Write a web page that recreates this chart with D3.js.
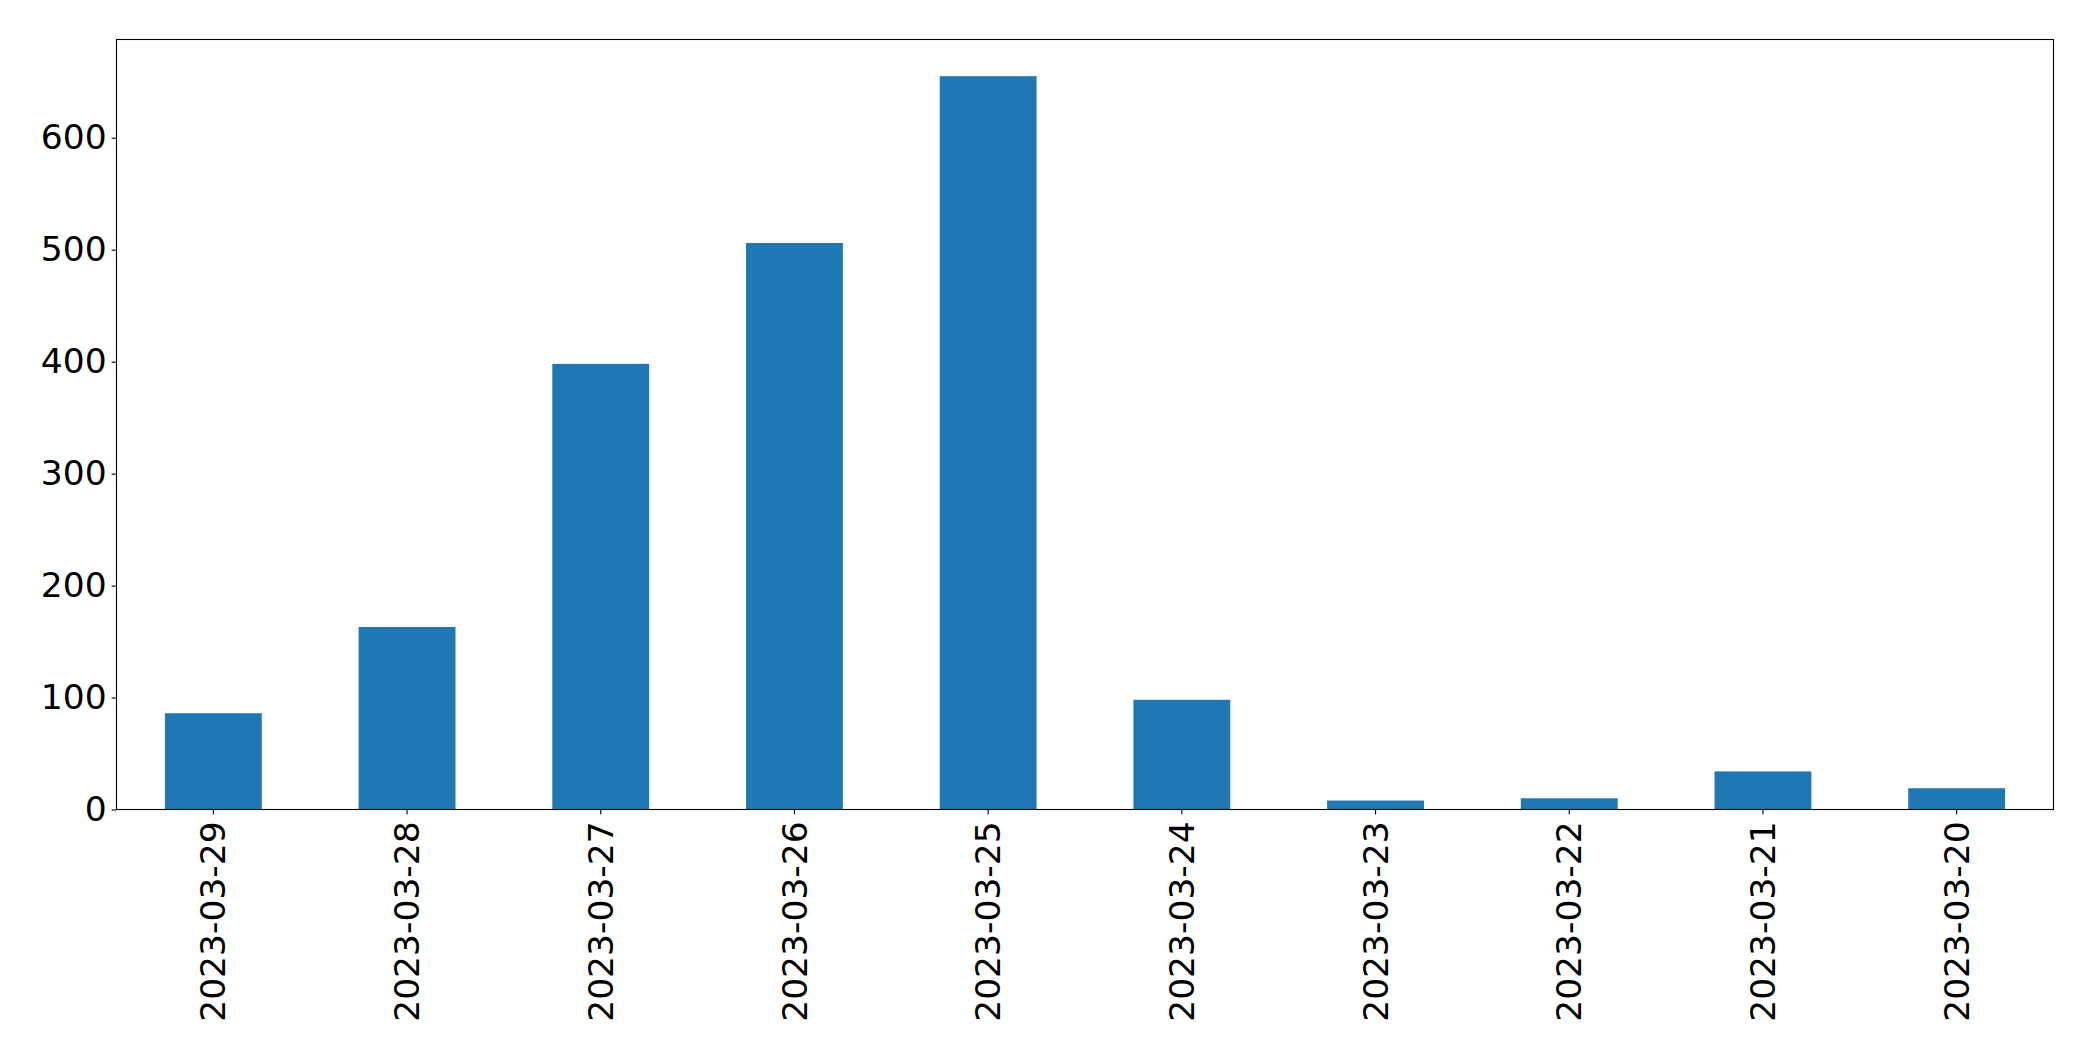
<!DOCTYPE html>
<html>
<head>
<meta charset="utf-8">
<script src="https://cdn.jsdelivr.net/npm/d3@7"></script>
<style>
  html, body { margin: 0; padding: 0; background: #fff; }
  svg { display: block; }
  text { font-family: "DejaVu Sans", sans-serif; fill: #000; }
</style>
</head>
<body>
<svg id="chart" width="2093" height="1061"></svg>
<script>
const categories = ["2023-03-29", "2023-03-28", "2023-03-27", "2023-03-26", "2023-03-25",
                    "2023-03-24", "2023-03-23", "2023-03-22", "2023-03-21", "2023-03-20"];
const values = [86, 163, 398, 506, 655, 98, 8, 10, 34, 19];
const yTicks = [0, 100, 200, 300, 400, 500, 600];

const W = 2093, H = 1061;
const margin = { left: 116.5, top: 39.5, right: W - 2053.5, bottom: H - 809.5 };
const svg = d3.select("#chart");

const x = d3.scaleBand()
  .domain(categories)
  .range([margin.left, W - margin.right])
  .paddingInner(0.5)
  .paddingOuter(0.25);

const y = d3.scaleLinear()
  .domain([0, d3.max(values) * 1.05])
  .range([H - margin.bottom, margin.top]);

const color = "#1f77b4";

svg.append("g").selectAll("rect")
  .data(values)
  .join("rect")
  .attr("x", (d, i) => x(categories[i]))
  .attr("width", x.bandwidth())
  .attr("y", d => y(d))
  .attr("height", d => y(0) - y(d))
  .attr("fill", color);

const fontSize = 34.5;

// y axis
const yAxis = svg.append("g")
  .attr("transform", `translate(${margin.left},0)`)
  .call(d3.axisLeft(y).tickValues(yTicks).tickSize(4.9).tickPadding(4.9).tickFormat(d3.format("d")));
yAxis.attr("font-size", null).attr("font-family", null);
yAxis.select(".domain").remove();
yAxis.selectAll(".tick line").attr("stroke", "#000").attr("stroke-width", 1.1);
yAxis.selectAll(".tick text").style("font-size", fontSize + "px").style("font-family", "DejaVu Sans");

// x axis
const xAxis = svg.append("g")
  .attr("transform", `translate(0,${H - margin.bottom})`)
  .call(d3.axisBottom(x).tickSize(4.9).tickPadding(4.9));
xAxis.attr("font-size", null).attr("font-family", null);
xAxis.select(".domain").remove();
xAxis.selectAll(".tick line").attr("stroke", "#000").attr("stroke-width", 1.1);
xAxis.selectAll(".tick text")
  .style("font-size", fontSize + "px")
  .style("font-family", "DejaVu Sans")
  .attr("transform", "rotate(-90)")
  .attr("text-anchor", "end")
  .attr("dy", "0.35em")
  .attr("x", -(4.9 + 4.9 + 2))
  .attr("y", 0);

// frame
svg.append("rect")
  .attr("x", margin.left)
  .attr("y", margin.top)
  .attr("width", W - margin.right - margin.left)
  .attr("height", H - margin.bottom - margin.top)
  .attr("fill", "none")
  .attr("stroke", "#000")
  .attr("stroke-width", 1.1);
</script>
</body>
</html>
